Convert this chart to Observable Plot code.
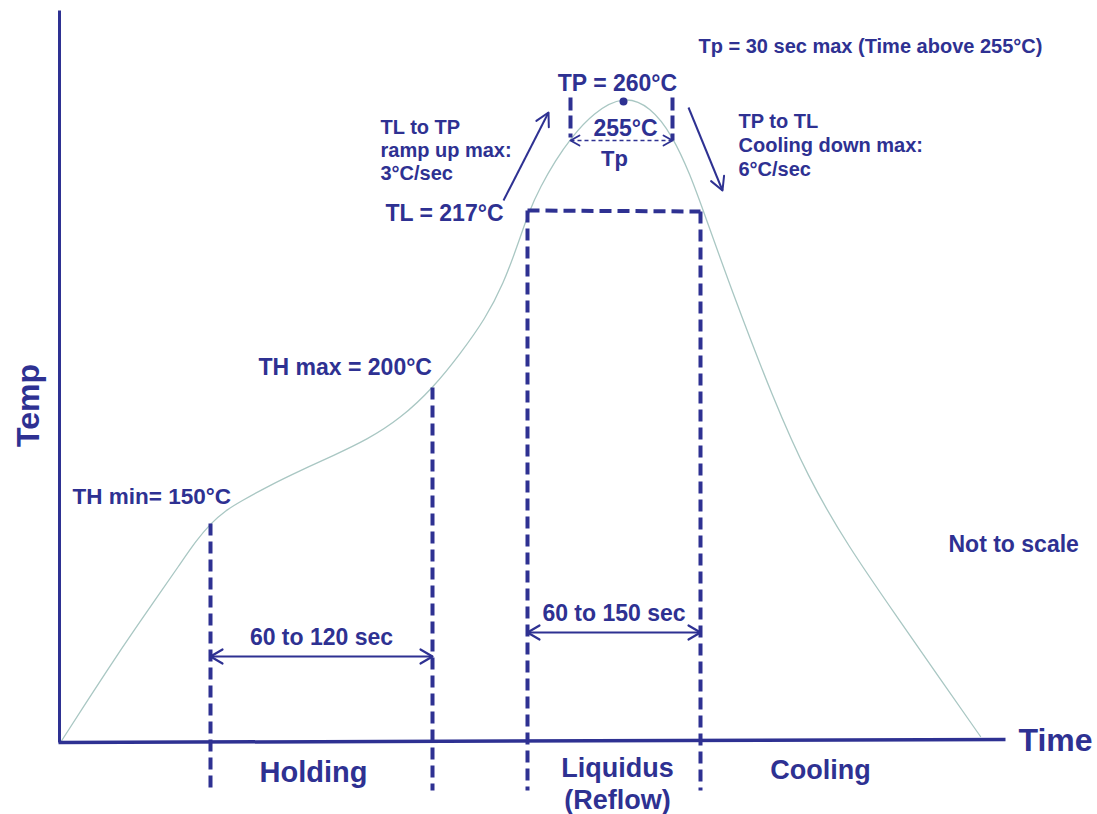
<!DOCTYPE html>
<html>
<head>
<meta charset="utf-8">
<script src="https://cdn.jsdelivr.net/npm/d3@7"></script>
<script src="https://cdn.jsdelivr.net/npm/@observablehq/plot@0.6"></script>
<style>
  html, body { margin: 0; padding: 0; background: #ffffff; }
  #chart svg { display: block; }
</style>
</head>
<body>
<div id="chart"></div>
<script>
// ---- Data (schematic units: time from origin, temperature height from baseline; "Not to scale") ----
const profileTime = [0, 23, 63, 90, 120, 135, 150, 165, 180, 207, 240, 273, 307, 340, 373, 400, 425, 443, 457, 468, 480, 495, 510, 533, 563, 590, 612, 630, 642, 673, 713, 747, 787, 837, 880, 920];
const profileTemp = [0, 36, 97, 136, 179, 201, 219, 232, 241, 256, 272, 287, 303, 324, 355, 389, 424, 459, 497, 530, 556, 582, 604, 630, 647, 636, 607, 567, 534, 447, 343, 266, 197, 125, 63, 6];

// axes extents
const axisTimeEnd = 945;
const axisTempEnd = 732;

// phase boundaries (TH min, TH max, TL start, TL end)
const boundaryTime = [150, 372, 467, 640];
const boundaryTop = [219, 355, 532, 531];
const boundaryBottom = -48;

// peak window (Tp, time above 255°C)
const peakTime = 563;
const peakTemp = 641;
const peakWindowTime = [510, 612];
const peakWindowTop = [645, 645];
const peakWindowBottom = [605, 602];

// duration spans
const spanLabels = ["60 to 120 sec", "60 to 150 sec"];
const spanStart = [150, 467];
const spanEnd = [372, 640];
const spanLevel = [86, 110];

// ramp arrows: [fromTime, fromTemp, toTime, toTemp]
const rampUp = [443, 542, 488, 630];
const coolDown = [628, 635, 662, 552];

// labels
const phaseLabels = ["Holding", "Liquidus", "(Reflow)", "Cooling"];
const phaseTime = [253, 557, 557, 760];
const phaseTemp = [-30, -26, -58, -28];

const rampUpLines = ["TL to TP", "ramp up max:", "3°C/sec"];
const coolDownLines = ["TP to TL", "Cooling down max:", "6°C/sec"];

// ---- Build ----
const NAVY = "#2e3192";
const CURVE = "#a9c7c3";
const FONT = "'Liberation Sans', Arial, sans-serif";

const profile = profileTime.map((t, i) => ({t, T: profileTemp[i]}));
const boundaries = boundaryTime.map((t, i) => ({t, top: boundaryTop[i], bottom: boundaryBottom}));
const peakWindow = peakWindowTime.map((t, i) => ({t, top: peakWindowTop[i], bottom: peakWindowBottom[i]}));
const spans = spanLabels.map((label, i) => ({label, t1: spanStart[i], t2: spanEnd[i], T: spanLevel[i]}));
const phases = phaseLabels.map((label, i) => ({label, t: phaseTime[i], T: phaseTemp[i]}));

// open chevron arrowhead at (x2,y2) pointing away from (x1,y1); units are 1:1 with pixels
let headId = 0;
function head(x1, y1, x2, y2, len, half) {
  const a = Math.atan2(y2 - y1, x2 - x1);
  const ux = Math.cos(a), uy = Math.sin(a);
  const id = headId++;
  return [
    {t: x2 - len * ux - half * uy, T: y2 - len * uy + half * ux, id},
    {t: x2, T: y2, id},
    {t: x2 - len * ux + half * uy, T: y2 - len * uy - half * ux, id}
  ];
}
const spanHeads = spans.flatMap(d => [
  ...head(d.t2, d.T, d.t1, d.T, 12, 7),
  ...head(d.t1, d.T, d.t2, d.T, 12, 7)
]);
const rampHeads = [
  ...head(...rampUp, 13, 7),
  ...head(...coolDown, 13, 7)
];
const peakHeads = [
  ...head(peakWindowTime[1], peakWindowBottom[1], peakWindowTime[0], peakWindowBottom[1], 9, 5),
  ...head(peakWindowTime[0], peakWindowBottom[1], peakWindowTime[1], peakWindowBottom[1], 9, 5)
];

const txt = (data, opts) => Plot.text(data, {fill: NAVY, fontWeight: "bold", fontFamily: FONT, ...opts});
const one = [{}];

const chart = Plot.plot({
  width: 1097,
  height: 814,
  margin: 0,
  x: {domain: [0, 1037], range: [60, 1097], axis: null},
  y: {domain: [0, 742], range: [742, 0], axis: null},
  style: {background: "#ffffff", fontFamily: FONT, overflow: "visible"},
  marks: [
    // profile curve
    Plot.line(profile, {x: "t", y: "T", curve: "basis", stroke: CURVE, strokeWidth: 1.3}),
    // axes
    Plot.link(one, {x1: -1, y1: 0, x2: -1, y2: axisTempEnd, stroke: NAVY, strokeWidth: 3}),
    Plot.link(one, {x1: -2, y1: 0, x2: axisTimeEnd, y2: 3, stroke: NAVY, strokeWidth: 3.5}),
    // phase boundaries (dashed)
    Plot.link(boundaries, {x1: "t", x2: "t", y1: "top", y2: "bottom", stroke: NAVY, strokeWidth: 4, strokeDasharray: "12,6"}),
    Plot.link(one, {x1: boundaryTime[2], x2: boundaryTime[3], y1: boundaryTop[2], y2: boundaryTop[3], stroke: NAVY, strokeWidth: 4, strokeDasharray: "12,6"}),
    // peak window
    Plot.link(peakWindow, {x1: "t", x2: "t", y1: "top", y2: "bottom", stroke: NAVY, strokeWidth: 4, strokeDasharray: "13,5"}),
    Plot.link(one, {x1: peakWindowTime[0], x2: peakWindowTime[1], y1: peakWindowBottom[1], y2: peakWindowBottom[1], stroke: NAVY, strokeWidth: 1.5, strokeDasharray: "4,3"}),
    Plot.line(peakHeads, {x: "t", y: "T", z: "id", stroke: NAVY, strokeWidth: 1.8}),
    Plot.dot(one, {x: peakTime, y: peakTemp, r: 4, fill: NAVY}),
    // duration spans
    Plot.link(spans, {x1: "t1", x2: "t2", y1: "T", y2: "T", stroke: NAVY, strokeWidth: 2}),
    Plot.line(spanHeads, {x: "t", y: "T", z: "id", stroke: NAVY, strokeWidth: 2.2}),
    // ramp arrows
    Plot.link(one, {x1: rampUp[0], y1: rampUp[1], x2: rampUp[2], y2: rampUp[3], stroke: NAVY, strokeWidth: 2}),
    Plot.link(one, {x1: coolDown[0], y1: coolDown[1], x2: coolDown[2], y2: coolDown[3], stroke: NAVY, strokeWidth: 2}),
    Plot.line(rampHeads, {x: "t", y: "T", z: "id", stroke: NAVY, strokeWidth: 2}),
    // texts
    txt(spans, {x: d => (d.t1 + d.t2) / 2, y: d => d.T + 19, text: "label", fontSize: 23}),
    txt(phases.slice(0, 1), {x: "t", y: "T", text: "label", fontSize: 29}),
    txt(phases.slice(1), {x: "t", y: "T", text: "label", fontSize: 27}),
    txt(one, {x: 638, y: 696, text: () => "Tp = 30 sec max (Time above 255°C)", textAnchor: "start", fontSize: 20}),
    txt(one, {x: 557, y: 659, text: () => "TP = 260°C", fontSize: 23}),
    txt(one, {x: 565, y: 614, text: () => "255°C", fontSize: 23}),
    txt(one, {x: 554, y: 584, text: () => "Tp", fontSize: 22}),
    txt(rampUpLines, {x: 320, y: (d, i) => 615 - 23 * i, text: d => d, textAnchor: "start", fontSize: 20}),
    txt(coolDownLines, {x: 678, y: (d, i) => 621 - 24 * i, text: d => d, textAnchor: "start", fontSize: 20}),
    txt(one, {x: 443, y: 529, text: () => "TL = 217°C", textAnchor: "end", fontSize: 23}),
    txt(one, {x: 198, y: 375, text: () => "TH max = 200°C", textAnchor: "start", fontSize: 23}),
    txt(one, {x: 12, y: 246, text: () => "TH min= 150°C", textAnchor: "start", fontSize: 22.5}),
    txt(one, {x: -32, y: 337, text: () => "Temp", rotate: -90, fontSize: 32}),
    txt(one, {x: 958, y: 2, text: () => "Time", textAnchor: "start", fontSize: 32}),
    txt(one, {x: 888, y: 198, text: () => "Not to scale", textAnchor: "start", fontSize: 23})
  ]
});
document.getElementById("chart").append(chart);
</script>
</body>
</html>
